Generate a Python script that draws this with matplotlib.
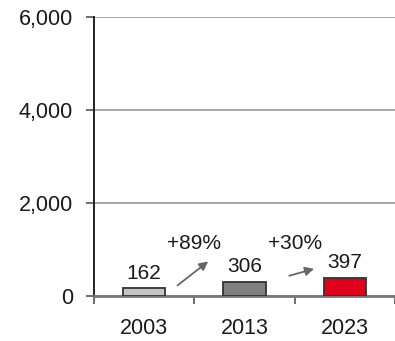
import matplotlib
matplotlib.use("Agg")
import matplotlib.pyplot as plt
import numpy as np

years = ["2003", "2013", "2023"]
values = [162, 306, 397]
growth = ["+89%", "+30%"]
colors = ["#c4c4c4", "#808080", "#e0001c"]
yticks = [0, 2000, 4000, 6000]
ytick_labels = ["0", "2,000", "4,000", "6,000"]

plt.rcParams['font.family'] = ['Liberation Sans', 'DejaVu Sans']

fig = plt.figure(figsize=(3.95, 3.41), dpi=100)
ax = fig.add_axes([0.238, 0.132, 0.762, 0.818])

x = np.arange(len(years))
ax.bar(x, values, width=0.42, color=colors, edgecolor="#333333", linewidth=1.3, zorder=3)

ax.set_xlim(-0.5, 2.5)
ax.set_ylim(0, 6000)
ax.set_yticks(yticks)
ax.set_yticklabels(ytick_labels, fontsize=15.5, color="#1a1a1a")
ax.set_xticks(x)
ax.set_xticklabels(years, fontsize=15.5, color="#1a1a1a")
ax.set_xticks(np.arange(-0.5, 2.6, 1.0), minor=True)
ax.tick_params(axis="x", which="major", length=0, pad=16)
ax.tick_params(axis="x", which="minor", length=6, width=1.2, color="#555555", direction="out")
ax.tick_params(axis="y", length=6, width=1.2, color="#555555", pad=9)

for spine in ["top", "right"]:
    ax.spines[spine].set_visible(False)
ax.spines["left"].set_color("#222222")
ax.spines["left"].set_linewidth(1.4)
ax.spines["bottom"].set_color("#777777")
ax.spines["bottom"].set_linewidth(2)

ax.grid(axis="y", color="#a0a0a0", linewidth=1.3, zorder=0)
ax.set_axisbelow(True)

for xi, v in zip(x, values):
    ax.annotate(f"{v}", (xi, v), xytext=(0, 4), textcoords="offset points",
                ha="center", va="bottom", fontsize=15, color="#1a1a1a")

for i, g in enumerate(growth):
    ax.text(i + 0.5, 1120, g, ha="center", va="center", fontsize=15, color="#1a1a1a")

arrows = [((0.31, 190), (0.66, 780)), ((1.42, 420), (1.72, 600))]
for (s, e) in arrows:
    ax.annotate("", xy=e, xytext=s,
                arrowprops=dict(arrowstyle="-|>", color="#666666", lw=1.3, mutation_scale=13))

fig.savefig("out.png", dpi=100)
